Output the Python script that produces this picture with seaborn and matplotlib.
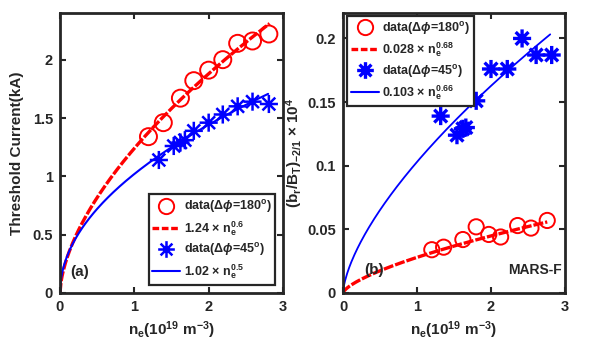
import numpy as np
import pandas as pd
import matplotlib
matplotlib.use("Agg")
import matplotlib.pyplot as plt
import seaborn as sns
from matplotlib.path import Path
from matplotlib.lines import Line2D

# ---------------- data ----------------
# panel (a): threshold current (kA)
ne_a_180 = [1.19, 1.39, 1.62, 1.80, 2.00, 2.19, 2.39, 2.59, 2.81]
ith_180 = [1.34, 1.46, 1.67, 1.82, 1.91, 2.00, 2.14, 2.16, 2.22]
ne_a_45 = [1.33, 1.53, 1.62, 1.68, 1.80, 2.00, 2.19, 2.39, 2.59, 2.81]
ith_45 = [1.14, 1.26, 1.29, 1.31, 1.39, 1.46, 1.53, 1.60, 1.64, 1.62]
fit_a_180 = (1.24, 0.6)
fit_a_45 = (1.02, 0.5)

# panel (b): (b_r/B_T)_{-2/1} x 1e4
ne_b_180 = [1.20, 1.36, 1.62, 1.80, 1.97, 2.13, 2.36, 2.54, 2.76]
br_180 = [0.034, 0.036, 0.042, 0.052, 0.046, 0.044, 0.053, 0.051, 0.057]
ne_b_45 = [1.32, 1.54, 1.62, 1.66, 1.80, 2.00, 2.22, 2.42, 2.61, 2.82]
br_45 = [0.139, 0.124, 0.129, 0.130, 0.151, 0.176, 0.176, 0.200, 0.187, 0.187]
fit_b_180 = (0.028, 0.68)
fit_b_45 = (0.103, 0.66)

xticks = [0, 1, 2, 3]
yticks_a = [0, 0.5, 1, 1.5, 2]
yticks_b = [0, 0.05, 0.1, 0.15, 0.2]

# ---------------- style ----------------
sns.set_style("ticks")
plt.rcParams["font.family"] = ["Liberation Sans", "DejaVu Sans"]
plt.rcParams["font.weight"] = "bold"
plt.rcParams["mathtext.fontset"] = "custom"
plt.rcParams["mathtext.rm"] = "Liberation Sans:bold"
plt.rcParams["mathtext.bf"] = "Liberation Sans:bold"
plt.rcParams["mathtext.it"] = "Liberation Sans:italic:bold"
plt.rcParams["mathtext.default"] = "bf"

star = Path(
    [(-1, 0), (1, 0), (0, -1), (0, 1),
     (-0.707, -0.707), (0.707, 0.707), (-0.707, 0.707), (0.707, -0.707)],
    [Path.MOVETO, Path.LINETO] * 4,
)

fig = plt.figure(figsize=(5.92, 3.64), dpi=100)
axa = fig.add_axes([60 / 592, 71 / 364, 223 / 592, 280 / 364])
axb = fig.add_axes([343 / 592, 71 / 364, 222 / 592, 280 / 364])


def fit_curve(coef, xmax):
    a, p = coef
    x = np.linspace(0, xmax, 200)
    return pd.DataFrame({"x": x, "y": a * x ** p})


def style_axes(ax, yticks, ylim, yfmt):
    ax.set_xlim(0, 3)
    ax.set_ylim(*ylim)
    ax.set_xticks(xticks)
    ax.set_xticklabels([str(t) for t in xticks])
    ax.set_yticks(yticks)
    ax.set_yticklabels([yfmt(t) for t in yticks])
    ax.tick_params(direction="in", top=True, right=True, length=4, width=1.5,
                   labelsize=10.5, pad=5)
    for lab in ax.get_xticklabels() + ax.get_yticklabels():
        lab.set_fontweight("bold")
    for s in ax.spines.values():
        s.set_visible(True)
        s.set_linewidth(2.0)
        s.set_color("#262626")
    ax.set_xlabel(r"n$_e$(10$^{19}$ m$^{-3}$)", fontsize=11, fontweight="bold", labelpad=4)


def fmt(t):
    return ("%g" % t)


def make_legend(ax, handles, labels, **kw):
    leg = ax.legend(handles, labels, fontsize=9, frameon=True, fancybox=False,
                    handlelength=2.2, handletextpad=0.3, borderpad=0.3,
                    labelspacing=0.3, borderaxespad=0, **kw)
    leg.get_frame().set_edgecolor("#262626")
    leg.get_frame().set_linewidth(1.6)
    leg.get_frame().set_alpha(1)
    for t in leg.get_texts():
        t.set_fontweight("bold")
    return leg


# ---------------- panel (a) ----------------
d = fit_curve(fit_a_180, 2.82)
sns.lineplot(data=d, x="x", y="y", ax=axa, color="red", lw=2.4,
             linestyle=(0, (3, 0.6)), sort=False, estimator=None)
d = fit_curve(fit_a_45, 2.80)
sns.lineplot(data=d, x="x", y="y", ax=axa, color="blue", lw=1.5,
             sort=False, estimator=None)
sns.scatterplot(x=ne_a_180, y=ith_180, ax=axa, marker="o", s=150,
                facecolors="none", edgecolor="red", linewidth=1.4, zorder=3)
sns.scatterplot(x=ne_a_45, y=ith_45, ax=axa, marker=star, s=170,
                facecolors="none", edgecolor="blue", linewidth=1.8, zorder=3)
style_axes(axa, yticks_a, (0, 2.4), fmt)
axa.set_ylabel("Threshold Current(kA)", fontsize=11, fontweight="bold", labelpad=6)
axa.text(0.27, 0.18, "(a)", fontsize=11, fontweight="bold", ha="center", va="center")

handles_a = [
    Line2D([], [], color="red", marker="o", markersize=11, markerfacecolor="none",
           markeredgewidth=1.4, linestyle="none"),
    Line2D([], [], color="red", lw=2.4, linestyle=(0, (2, 0.8))),
    Line2D([], [], color="blue", marker=star, markersize=12, markerfacecolor="none",
           markeredgewidth=1.8, linestyle="none"),
    Line2D([], [], color="blue", lw=1.5),
]
labels_a = [r"data($\Delta\mathit{\phi}$=180$^{o}$)", r"1.24 $\times$ n$_e^{0.6}$",
            r"data($\Delta\mathit{\phi}$=45$^{o}$)", r"1.02 $\times$ n$_e^{0.5}$"]
make_legend(axa, handles_a, labels_a, loc="lower right", bbox_to_anchor=(0.965, 0.03))

# ---------------- panel (b) ----------------
d = fit_curve(fit_b_180, 2.76)
sns.lineplot(data=d, x="x", y="y", ax=axb, color="red", lw=2.4,
             linestyle=(0, (3, 0.6)), sort=False, estimator=None)
d = fit_curve(fit_b_45, 2.80)
sns.lineplot(data=d, x="x", y="y", ax=axb, color="blue", lw=1.3,
             sort=False, estimator=None)
sns.scatterplot(x=ne_b_180, y=br_180, ax=axb, marker="o", s=120,
                facecolors="none", edgecolor="red", linewidth=1.4, zorder=3)
sns.scatterplot(x=ne_b_45, y=br_45, ax=axb, marker=star, s=170,
                facecolors="none", edgecolor="blue", linewidth=2.4, zorder=3)
style_axes(axb, yticks_b, (0, 0.22), fmt)
axb.set_ylabel(r"(b$_r$/B$_T$)$_{-2/1}$ $\times$ 10$^4$", fontsize=11,
               fontweight="bold", labelpad=2)
axb.text(0.42, 0.018, "(b)", fontsize=11, fontweight="bold", ha="center", va="center")
axb.text(2.6, 0.018, "MARS-F", fontsize=10, fontweight="bold", ha="center", va="center")

handles_b = [
    Line2D([], [], color="red", marker="o", markersize=11, markerfacecolor="none",
           markeredgewidth=1.4, linestyle="none"),
    Line2D([], [], color="red", lw=2.4, linestyle=(0, (2, 0.8))),
    Line2D([], [], color="blue", marker=star, markersize=12, markerfacecolor="none",
           markeredgewidth=2.4, linestyle="none"),
    Line2D([], [], color="blue", lw=1.5),
]
labels_b = [r"data($\Delta\mathit{\phi}$=180$^{o}$)", r"0.028 $\times$ n$_e^{0.68}$",
            r"data($\Delta\mathit{\phi}$=45$^{o}$)", r"0.103 $\times$ n$_e^{0.66}$"]
make_legend(axb, handles_b, labels_b, loc="upper left", bbox_to_anchor=(0.02, 0.99))

fig.savefig("out.png", dpi=100)
